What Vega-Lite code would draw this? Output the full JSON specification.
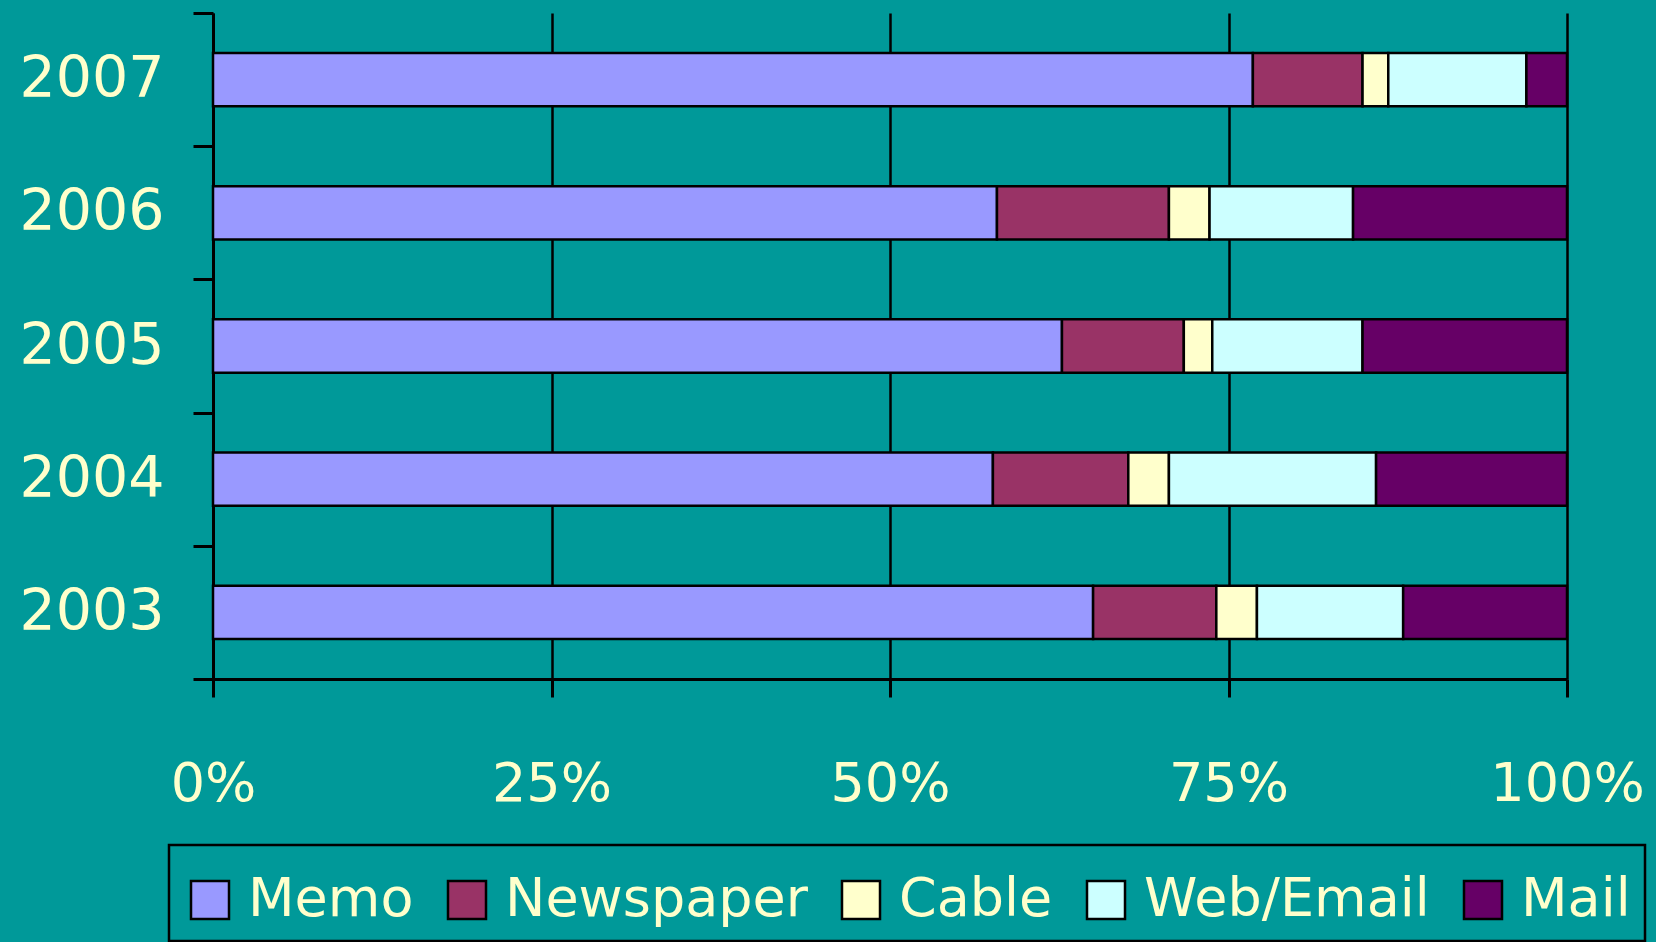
{
  "$schema": "https://vega.github.io/schema/vega-lite/v6.json",
  "width": 1354,
  "height": 666,
  "autosize": {"type": "none"},
  "padding": {"left": 213, "top": 13, "right": 89, "bottom": 263},
  "background": "#009999",
  "config": {"view": {"stroke": null}, "font": "DejaVu Sans"},
  "data": {
    "values": [
      {"year": "2007", "channel": "Memo", "share": 76.8},
      {"year": "2007", "channel": "Newspaper", "share": 8.1},
      {"year": "2007", "channel": "Cable", "share": 1.9},
      {"year": "2007", "channel": "Web/Email", "share": 10.2},
      {"year": "2007", "channel": "Mail", "share": 3.0},
      {"year": "2006", "channel": "Memo", "share": 57.9},
      {"year": "2006", "channel": "Newspaper", "share": 12.7},
      {"year": "2006", "channel": "Cable", "share": 3.0},
      {"year": "2006", "channel": "Web/Email", "share": 10.6},
      {"year": "2006", "channel": "Mail", "share": 15.8},
      {"year": "2005", "channel": "Memo", "share": 62.7},
      {"year": "2005", "channel": "Newspaper", "share": 9.0},
      {"year": "2005", "channel": "Cable", "share": 2.1},
      {"year": "2005", "channel": "Web/Email", "share": 11.1},
      {"year": "2005", "channel": "Mail", "share": 15.1},
      {"year": "2004", "channel": "Memo", "share": 57.6},
      {"year": "2004", "channel": "Newspaper", "share": 10.0},
      {"year": "2004", "channel": "Cable", "share": 3.0},
      {"year": "2004", "channel": "Web/Email", "share": 15.3},
      {"year": "2004", "channel": "Mail", "share": 14.1},
      {"year": "2003", "channel": "Memo", "share": 65.0},
      {"year": "2003", "channel": "Newspaper", "share": 9.1},
      {"year": "2003", "channel": "Cable", "share": 3.0},
      {"year": "2003", "channel": "Web/Email", "share": 10.8},
      {"year": "2003", "channel": "Mail", "share": 12.1}
    ]
  },
  "transform": [
    {"calculate": "indexof(['Memo','Newspaper','Cable','Web/Email','Mail'], datum.channel)", "as": "k"}
  ],
  "mark": {"type": "bar", "stroke": "black", "strokeWidth": 2.5, "height": {"band": 0.4}},
  "encoding": {
    "y": {
      "field": "year",
      "type": "nominal",
      "sort": "descending",
      "scale": {"paddingInner": 0, "paddingOuter": 0},
      "axis": {
        "title": null,
        "domainColor": "black",
        "domainWidth": 3,
        "tickColor": "black",
        "tickWidth": 3,
        "tickSize": 20,
        "tickBand": "extent",
        "labelFontSize": 57,
        "labelColor": "#FFFFCC",
        "labelPadding": 29,
        "grid": false
      }
    },
    "x": {
      "field": "share",
      "type": "quantitative",
      "stack": "normalize",
      "scale": {"domain": [0, 1]},
      "axis": {
        "title": null,
        "values": [0, 0.25, 0.5, 0.75, 1],
        "format": ".0%",
        "grid": true,
        "gridColor": "black",
        "gridWidth": 2.5,
        "gridOpacity": 1,
        "domainColor": "black",
        "domainWidth": 3,
        "tickColor": "black",
        "tickWidth": 3,
        "tickSize": 18,
        "labelFontSize": 54,
        "labelColor": "#FFFFCC",
        "labelBaseline": "alphabetic",
        "labelPadding": 103,
        "labelFlush": false,
        "labelOverlap": false
      }
    },
    "color": {
      "field": "channel",
      "type": "nominal",
      "sort": null,
      "scale": {
        "domain": ["Memo", "Newspaper", "Cable", "Web/Email", "Mail"],
        "range": ["#9999FF", "#993366", "#FFFFCC", "#CCFFFF", "#660066"]
      },
      "legend": {
        "orient": "none",
        "legendX": -44,
        "legendY": 832,
        "direction": "horizontal",
        "title": " ",
        "titleFontSize": 4,
        "titlePadding": 10,
        "strokeColor": "black",
        "fillColor": "#009999",
        "padding": 14,
        "symbolType": "square",
        "symbolSize": 1444,
        "symbolStrokeColor": "black",
        "symbolStrokeWidth": 2.5,
        "symbolOpacity": 1,
        "labelFontSize": 54,
        "labelColor": "#FFFFCC",
        "labelOffset": 11,
        "labelLimit": 0,
        "columnPadding": 26,
        "encode": {"legend": {"update": {"strokeWidth": {"value": 2.5}}}}
      }
    },
    "order": {"field": "k"}
  }
}
